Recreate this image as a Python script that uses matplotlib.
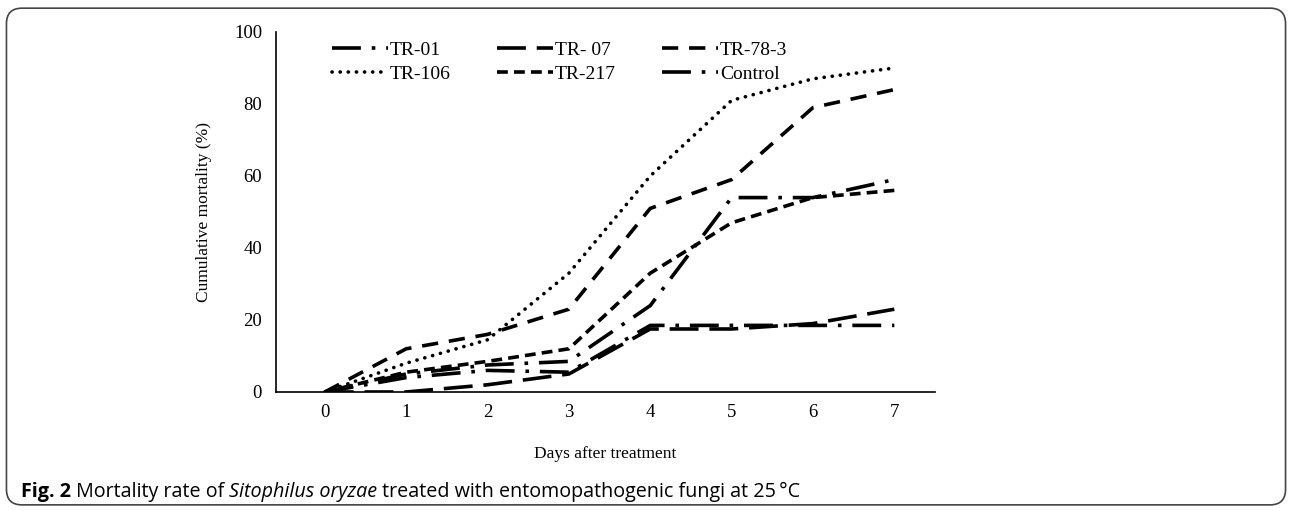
import matplotlib
matplotlib.use("Agg")
import matplotlib.pyplot as plt
from matplotlib.patches import FancyBboxPatch

days = [0, 1, 2, 3, 4, 5, 6, 7]
tr01 = [0, 5, 7.5, 8.5, 24, 54, 54, 59]
tr07 = [0, 0, 2, 5, 17.5, 17.5, 19, 23]
tr78_3 = [0, 12, 16, 23, 51, 59, 79, 84]
tr106 = [0, 8, 14.5, 33, 60, 81, 87, 90]
tr217 = [0, 5.5, 8.5, 12, 33, 47, 54, 56]
control = [0, 4, 6, 5.5, 18.5, 18.5, 18.5, 18.5]

labels = ["TR-01", "TR- 07", "TR-78-3", "TR-106", "TR-217", "Control"]
series = [tr01, tr07, tr78_3, tr106, tr217, control]
dotted = (0, (0.05, 2.2))
styles = [(0, (8, 3, 1, 3)), (0, (8, 3)), (0, (4.5, 3)),
          dotted, (0, (3, 1.7)), (0, (8, 3, 1, 3))]

serif = ["Liberation Serif", "DejaVu Serif"]

fig = plt.figure(figsize=(12.92, 5.11), dpi=100)
box = FancyBboxPatch((0.005, 0.012), 0.99, 0.972, boxstyle="round,pad=0,rounding_size=0.012",
                     transform=fig.transFigure, fill=False, edgecolor="#444444", linewidth=1.2,
                     mutation_aspect=1292/511)
fig.patches.append(box)

ax = fig.add_axes([0.2136, 0.2329, 0.7237 - 0.2136, 0.9374 - 0.2329])
handles = []
for y, lab, ls in zip(series, labels, styles):
    line, = ax.plot(days, y, color="black", linewidth=2.6, linestyle=ls, label=lab,
                    dash_capstyle="round" if ls == dotted else "butt")
    handles.append(line)

ax.set_xlim(-0.6, 7.5)
ax.set_ylim(0, 100)
ax.set_xticks(days)
ax.set_yticks([0, 20, 40, 60, 80, 100])
ax.tick_params(axis="x", length=0, labelsize=13.5, pad=9)
ax.tick_params(axis="y", length=0, labelsize=13.5, pad=10)
for t in ax.get_xticklabels() + ax.get_yticklabels():
    t.set_fontfamily(serif)
ax.spines["top"].set_visible(False)
ax.spines["right"].set_visible(False)
ax.spines["left"].set_linewidth(1.2)
ax.spines["bottom"].set_linewidth(1.2)
ax.set_xlabel("Days after treatment", fontsize=12.5, family=serif, labelpad=18)
ax.set_ylabel("Cumulative mortality (%)", fontsize=12.5, family=serif, labelpad=16)

# legend rows: TR-01, TR-07, TR-78-3 / TR-106, TR-217, Control (column-wise fill)
order = [0, 3, 1, 4, 2, 5]
leg = ax.legend([handles[i] for i in order], [labels[i] for i in order],
                ncol=3, loc="upper left", bbox_to_anchor=(0.058, 1.022), frameon=False,
                prop={"family": serif, "size": 14}, handlelength=2.9, handletextpad=0.1,
                columnspacing=2.35, labelspacing=0.32)

fs = 14.2
cap = "Open Sans"
t1 = fig.text(0.016, 0.028, "Fig. 2", fontsize=fs, fontweight="bold", family=cap,
              ha="left", va="baseline")
t2 = ax.annotate(" Mortality rate of ", xy=(1, 0), xycoords=t1, va="bottom", ha="left",
                 fontsize=fs, family=cap, annotation_clip=False)
t3 = ax.annotate("Sitophilus oryzae", xy=(1, 0), xycoords=t2, va="bottom", ha="left",
                 fontsize=fs, family=cap, style="italic", annotation_clip=False)
t4 = ax.annotate(" treated with entomopathogenic fungi at 25\u2009\u00b0C", xy=(1, 0), xycoords=t3,
                 va="bottom", ha="left", fontsize=fs, family=cap, annotation_clip=False)

fig.savefig("out.png", dpi=100)
